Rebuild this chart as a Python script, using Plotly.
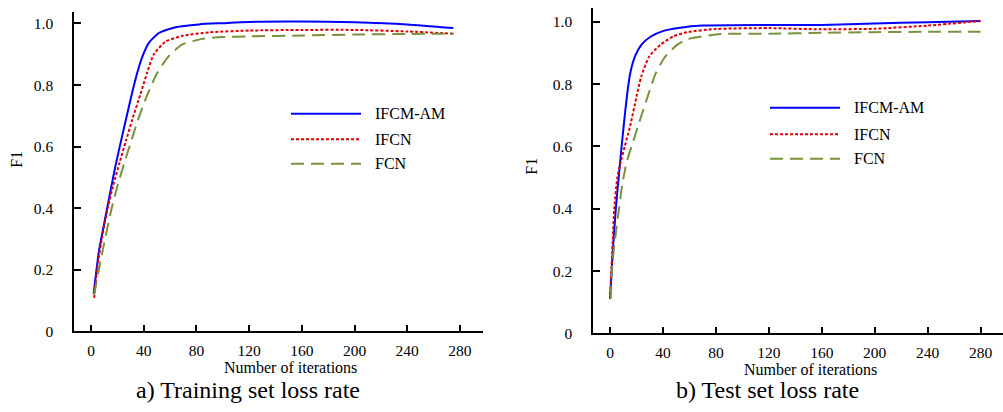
import plotly.graph_objects as go

# ---- training set (panel a) ----
train_iter_am = [2, 6, 10.9, 14.5, 18.2, 21.8, 26.6, 31.5, 35.1, 38.8, 43.9, 51.5, 64.3, 82, 100, 120, 160, 200, 240, 275]
train_f1_am = [0.121, 0.26, 0.37, 0.45, 0.53, 0.6, 0.69, 0.78, 0.84, 0.89, 0.937, 0.969, 0.988, 0.997, 1.001, 1.005, 1.006, 1.004, 0.997, 0.985]

train_iter_ifcn = [2.4, 4.8, 8.4, 12.1, 16.9, 21.8, 26.6, 31.5, 37.5, 42.6, 47.7, 56.6, 69.4, 89.8, 120, 160, 200, 240, 275]
train_f1_ifcn = [0.109, 0.21, 0.305, 0.39, 0.475, 0.55, 0.62, 0.69, 0.77, 0.84, 0.9, 0.941, 0.96, 0.971, 0.977, 0.979, 0.979, 0.974, 0.967]

train_iter_fcn = [2.4, 7.3, 10.9, 15.7, 20.6, 25.5, 30.3, 35.1, 42.4, 50.3, 59.2, 69.4, 84.3, 100, 120, 160, 200, 240, 275]
train_f1_fcn = [0.12, 0.23, 0.305, 0.4, 0.48, 0.55, 0.615, 0.68, 0.765, 0.84, 0.895, 0.932, 0.95, 0.956, 0.958, 0.961, 0.964, 0.966, 0.967]

# ---- test set (panel b) ----
test_iter_am = [0, 1.9, 4.3, 6.7, 8.7, 10.3, 12.7, 15.2, 18.8, 23.6, 30.8, 40.5, 53, 70, 120, 160, 200, 240, 280]
test_f1_am = [0.112, 0.253, 0.398, 0.509, 0.6, 0.666, 0.76, 0.834, 0.889, 0.926, 0.953, 0.971, 0.981, 0.988, 0.990, 0.990, 0.995, 0.999, 1.003]

test_iter_ifcn = [0, 1.9, 3.1, 5.5, 8, 11.1, 15.2, 20, 23.6, 29.6, 38, 47.6, 58.4, 80, 120, 160, 200, 240, 280]
test_f1_ifcn = [0.11, 0.287, 0.398, 0.5, 0.55, 0.6, 0.666, 0.76, 0.825, 0.889, 0.926, 0.953, 0.967, 0.977, 0.980, 0.976, 0.978, 0.988, 1.003]

test_iter_fcn = [0.5, 1.9, 4.3, 6.7, 9.1, 12.7, 16.3, 21.2, 28.4, 34.4, 41.8, 50.6, 58.4, 83.8, 120, 160, 200, 240, 280]
test_f1_fcn = [0.112, 0.23, 0.32, 0.398, 0.475, 0.553, 0.6, 0.666, 0.76, 0.834, 0.889, 0.926, 0.944, 0.961, 0.962, 0.965, 0.967, 0.968, 0.968]

series_names = ["IFCM-AM", "IFCN", "FCN"]
series_colors = ["#0000ff", "#e00000", "#77933c"]
series_dash = ["solid", "3px,2px", "13px,7px"]

x_ticks = [0, 40, 80, 120, 160, 200, 240, 280]
y_ticks = [0, 0.2, 0.4, 0.6, 0.8, 1.0]
y_tick_text = ["0", "0.2", "0.4", "0.6", "0.8", "1.0"]

panel_captions = ["a) Training set loss rate", "b) Test set loss rate"]
x_title = "Number of iterations"
y_title = "F1"

W, H = 1003, 412
SERIF = "Liberation Serif"


def px(x):
    return x / W


def py(y):
    return 1 - y / H


panels = [
    dict(data=[(train_iter_am, train_f1_am), (train_iter_ifcn, train_f1_ifcn), (train_iter_fcn, train_f1_fcn)],
         xdom=(74, 483), ydom=(12, 338), xr=[-12.9, 297.5], yr=[0, 1.038],
         xtitle=(290, 375), ytitle=(17, 163), cap=(248, 398),
         leg_x=(291, 361, 373), leg_y=[116, 142, 167]),
    dict(data=[(test_iter_am, test_f1_am), (test_iter_ifcn, test_f1_ifcn), (test_iter_fcn, test_f1_fcn)],
         xdom=(593, 1003), ydom=(8, 340), xr=[-12.9, 297], yr=[0, 1.045],
         xtitle=(810, 377), ytitle=(532, 170), cap=(767, 398),
         leg_x=(770, 840, 852), leg_y=[110, 137, 162]),
]

fig = go.Figure()
shapes = []
annotations = []


def text_at(text, x, y, size, **kw):
    d = dict(text=text, x=px(x), y=py(y), xref="paper", yref="paper", showarrow=False,
             xanchor="center", yanchor="middle",
             font=dict(family=SERIF, size=size, color="black"))
    d.update(kw)
    return d


for i, p in enumerate(panels):
    sfx = "" if i == 0 else str(i + 1)
    for (xs, ys), name, color, dash in zip(p["data"], series_names, series_colors, series_dash):
        fig.add_trace(go.Scatter(
            x=xs, y=ys, mode="lines", name=name, showlegend=False,
            line=dict(color=color, width=2, dash=dash, shape="spline", smoothing=0.6),
            xaxis="x" + sfx, yaxis="y" + sfx,
        ))

    axis_common = dict(
        showgrid=False, zeroline=False, showline=True, linecolor="black", linewidth=1.5,
        ticks="inside", ticklen=7, tickwidth=2, tickcolor="black",
        tickfont=dict(family=SERIF, size=15.5, color="black"),
    )
    fig.update_layout(**{
        "xaxis" + sfx: dict(axis_common, domain=[px(p["xdom"][0]), px(p["xdom"][1])],
                            range=p["xr"], tickvals=x_ticks, anchor="y" + sfx,
                            ticklabelstandoff=4),
        "yaxis" + sfx: dict(axis_common, domain=[py(p["ydom"][1]), py(p["ydom"][0])],
                            range=p["yr"], tickvals=y_ticks, ticktext=y_tick_text,
                            anchor="x" + sfx, ticklabelstandoff=16),
    })

    # axis titles and panel caption
    annotations.append(text_at(x_title, *p["xtitle"], 16))
    annotations.append(text_at(y_title, *p["ytitle"], 16, textangle=-90))
    annotations.append(text_at(panel_captions[i], *p["cap"], 24))

    # in-plot legend: line sample plus label for each series
    x0, x1, xt = p["leg_x"]
    for name, color, dash, yy in zip(series_names, series_colors, series_dash, p["leg_y"]):
        shapes.append(dict(type="line", xref="paper", yref="paper",
                           x0=px(x0), x1=px(x1), y0=py(yy), y1=py(yy),
                           line=dict(color=color, width=2, dash=dash)))
        annotations.append(text_at(name, xt, yy, 16, xanchor="left"))

fig.update_layout(
    width=W, height=H, margin=dict(l=0, r=0, t=0, b=0),
    paper_bgcolor="white", plot_bgcolor="white",
    shapes=shapes, annotations=annotations, showlegend=False,
)

fig.write_html("out.html")
